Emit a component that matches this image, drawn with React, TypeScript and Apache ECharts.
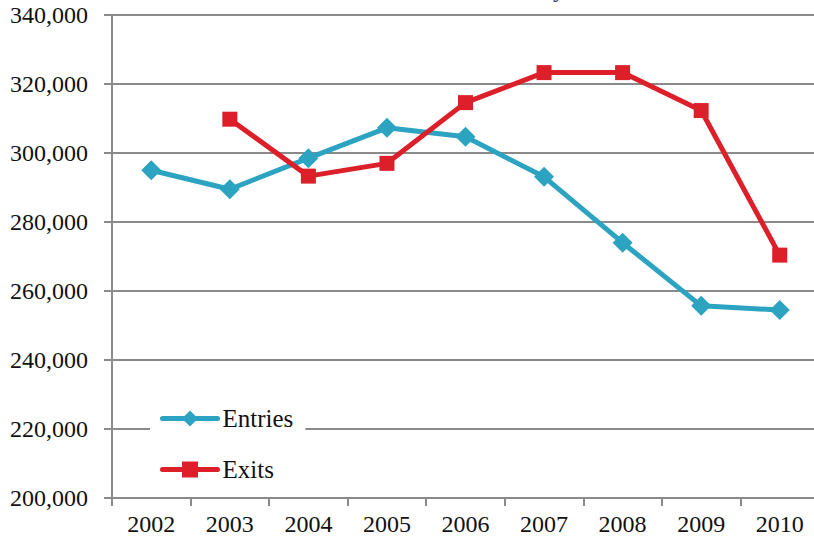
import React, { useEffect, useRef } from "react";
import * as echarts from "echarts";

const years = ["2002", "2003", "2004", "2005", "2006", "2007", "2008", "2009", "2010"];
const entries = [295000, 289500, 298500, 307300, 304700, 293100, 274000, 255700, 254500];
const exits = [null, 309800, 293300, 297000, 314600, 323300, 323300, 312300, 270400];
const yMin = 200000;
const yMax = 340000;
const yStep = 20000;

const FONT = "'Liberation Serif', 'DejaVu Serif', serif";
const GRAY = "#8a8a8a";
const TEAL = "#2ba3c1";
const RED = "#dc1f29";

export default function App() {
  const ref = useRef<HTMLDivElement>(null);
  useEffect(() => {
    if (!ref.current) return;
    const chart = echarts.init(ref.current, undefined, { renderer: "svg" });
    chart.setOption({
      animation: false,
      backgroundColor: "#ffffff",
      grid: { left: 112, top: 15, width: 707, height: 483, containLabel: false },
      graphic: [
        {
          type: "text",
          left: 553,
          top: -23,
          style: { text: "y", fontSize: 24, fontFamily: FONT, fill: "#1f3864" },
        },
      ],
      legend: {
        orient: "vertical",
        left: 150,
        top: 396,
        padding: [10, 12, 10, 10],
        backgroundColor: "#ffffff",
        itemWidth: 55,
        itemHeight: 20,
        itemGap: 26,
        lineStyle: { width: 5, cap: "round" },
        textStyle: { fontFamily: FONT, fontSize: 25, color: "#111" },
        data: ["Entries", "Exits"],
      },
      xAxis: {
        type: "category",
        data: years,
        boundaryGap: true,
        axisLine: { lineStyle: { color: GRAY, width: 2 } },
        axisTick: { show: true, length: 8, lineStyle: { color: GRAY, width: 2 } },
        axisLabel: { fontFamily: FONT, fontSize: 24, color: "#111", margin: 14 },
        splitLine: { show: false },
      },
      yAxis: {
        type: "value",
        min: yMin,
        max: yMax,
        interval: yStep,
        axisLine: { show: true, lineStyle: { color: GRAY, width: 2 } },
        axisTick: { show: true, length: 8, lineStyle: { color: GRAY, width: 2 } },
        axisLabel: {
          fontFamily: FONT,
          fontSize: 24,
          color: "#111",
          margin: 24,
          formatter: (v: number) => v.toLocaleString("en-US"),
        },
        splitLine: { show: true, lineStyle: { color: GRAY, width: 2 } },
      },
      series: [
        {
          name: "Entries",
          type: "line",
          data: entries,
          symbol: "diamond",
          symbolSize: 20,
          lineStyle: { color: TEAL, width: 5 },
          itemStyle: { color: TEAL },
          z: 3,
        },
        {
          name: "Exits",
          type: "line",
          data: exits,
          symbol: "rect",
          symbolSize: 15,
          lineStyle: { color: RED, width: 5 },
          itemStyle: { color: RED },
          z: 4,
        },
      ],
    });
    return () => chart.dispose();
  }, []);
  return (
    <div style={{ position: "fixed", left: 0, top: 0, width: 814, height: 541, overflow: "hidden" }}>
      <div ref={ref} style={{ width: 830, height: 541 }} />
    </div>
  );
}
